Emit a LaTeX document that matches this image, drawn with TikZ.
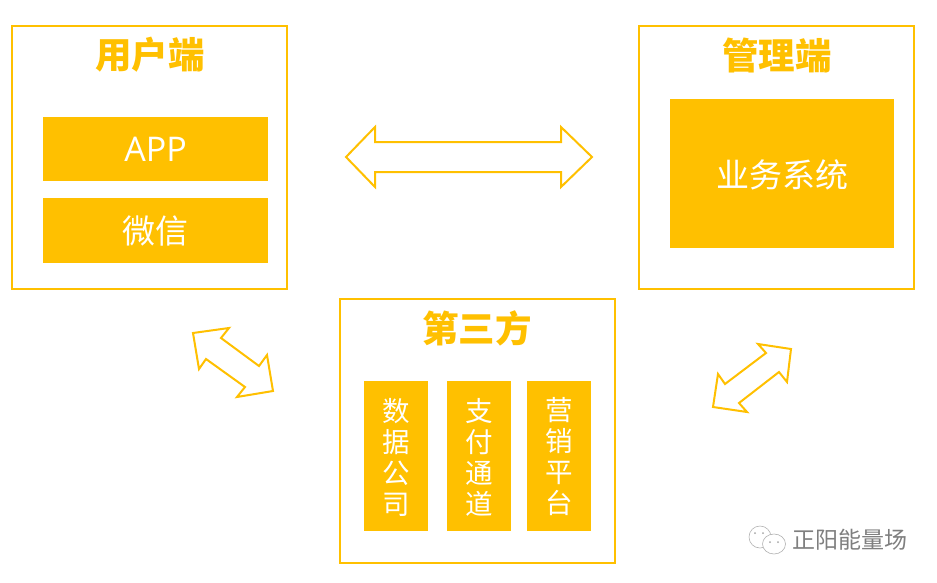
\documentclass[tikz,border=0pt]{standalone}
\usepackage{fontspec}
\setmainfont{Open Sans}
\newfontfamily\cjk{Noto Sans CJK SC}
\newfontfamily\cjkb{Noto Sans CJK SC Black}
\definecolor{gold}{HTML}{FFC000}
\definecolor{mark}{HTML}{7F7F7F}
\tikzset{
  panel/.style={draw=gold,line width=2pt,fill=white,inner sep=0pt,outer sep=0pt},
  block/.style={fill=gold,draw=none,inner sep=0pt,outer sep=0pt,text=white,align=center},
  head/.style={text=gold,inner sep=0pt,font=\cjkb\fontsize{36.5}{40}\selectfont},
  label/.style={text=white,font=\cjk\fontsize{33}{38}\selectfont},
  vlabel/.style={text=white,align=center,font=\cjk\fontsize{27.5}{31}\selectfont},
  flow/.style={draw=gold,line width=2pt,fill=white,line join=miter,miter limit=10},
}
\newcommand{\boxat}[6]{\node[#1,minimum width=#4pt-#2pt,minimum height=#5pt-#3pt,anchor=north west] (#6) at (#2,#3) {};}
\begin{document}
\begin{tikzpicture}[x=1pt,y=-1pt]
\useasboundingbox (0,0) rectangle (937,582);
\fill[white] (0,0) rectangle (937,582);
% panels
\boxat{panel}{12}{26}{287}{289}{user}
\boxat{panel}{639}{26}{914}{289}{admin}
\boxat{panel}{340}{299}{615}{563}{third}
% titles
\node[head] (userT) at (150,55) {用户端};
\node[head] (adminT) at (777,55) {管理端};
\node[head] (thirdT) at (477,328) {第三方};
% blocks
\boxat{block}{43}{117}{268}{181}{app}
\boxat{block}{43}{198}{268}{263}{wx}
\boxat{block}{670}{99}{894}{248}{biz}
\boxat{block}{364}{381}{428}{531}{data}
\boxat{block}{447}{381}{511}{531}{pay}
\boxat{block}{527}{381}{591}{531}{mkt}
\node[text=white,font=\fontsize{34}{38}\selectfont] (appT) at (155.5,149) {APP};
\node[label] (wxT) at (155.5,231) {微信};
\node[label] (bizT) at (782,175) {业务系统};
\node[vlabel] (dataT) at (396,457) {数\\据\\公\\司};
\node[vlabel] (payT) at (479,457) {支\\付\\通\\道};
\node[vlabel] (mktT) at (559,457) {营\\销\\平\\台};
% double arrows
\draw[flow] (346,157)--(375,127)--(375,142)--(561,142)--(561,127)--(592,157)--(561,187)--(561,172)--(375,172)--(375,187)--cycle;
\draw[flow] (193,333)--(229,328)--(221,338)--(259,366)--(267,355)--(273,391)--(237,397)--(245,387)--(206,359)--(199,369)--cycle;
\draw[flow] (791,349)--(787,382)--(779,372)--(739,403)--(747,412)--(713,407)--(718,374)--(725,384)--(766,353)--(758,344)--cycle;
% watermark
\draw[mark!60,line width=.6pt,fill=white] (760,537) circle (11);
\draw[mark!60,line width=.6pt,fill=white] (774,544) ellipse (11.5 and 10);
\fill[mark!70] (755,533) circle (1) (763,533) circle (1) (770,542) circle (1) (778,542) circle (1);
\node[text=mark,inner sep=0pt,font=\cjk\fontsize{23}{24}\selectfont] (wm) at (849.5,540) {正阳能量场};
\end{tikzpicture}
\end{document}
